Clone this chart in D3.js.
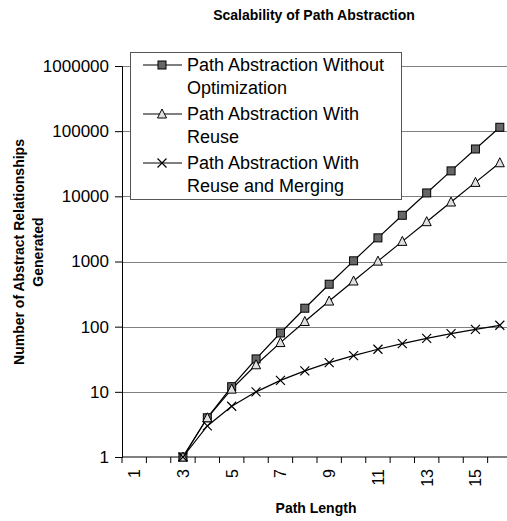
<!DOCTYPE html>
<html>
<head>
<meta charset="utf-8">
<script src="https://cdn.jsdelivr.net/npm/d3@7"></script>
<style>
  body { margin: 0; background: #fff; }
  text { font-family: Arial, "Liberation Sans", sans-serif; }
</style>
</head>
<body>
<script>
var width = 507,
    height = 521;

// path lengths 1..16, values start at 3
var pathLengths = d3.range(1, 17);
var tickLabels = [1, 3, 5, 7, 9, 11, 13, 15];
var yTicks = [1, 10, 100, 1000, 10000, 100000, 1000000];

var withoutOpt = [null, null, 1, 4, 12, 32, 80, 192, 448, 1024, 2304, 5120, 11264, 24576, 53248, 114688];
var withReuse = [null, null, 1, 4, 11, 26, 57, 120, 247, 502, 1013, 2036, 4083, 8178, 16369, 32752];
var withMerging = [null, null, 1, 3, 6, 10, 15, 21, 28, 36, 45, 55, 66, 78, 91, 105];

var seriesNames = [
  ["Path Abstraction Without", "Optimization"],
  ["Path Abstraction With", "Reuse"],
  ["Path Abstraction With", "Reuse and Merging"]
];

var plotLeft = 122, plotRight = 512, plotTop = 66, plotBottom = 457;

var svg = d3.select("body").append("svg")
    .attr("width", width)
    .attr("height", height);

var x = d3.scaleBand()
    .domain(pathLengths)
    .range([plotLeft, plotRight]);

var y = d3.scaleLog()
    .domain([1, 1000000])
    .range([plotBottom, plotTop]);

// gridlines
svg.append("g")
  .selectAll("line")
    .data(yTicks.slice(1))
  .enter().append("line")
    .attr("x1", plotLeft)
    .attr("x2", plotRight)
    .attr("y1", function(d) { return Math.round(y(d)) + 0.5; })
    .attr("y2", function(d) { return Math.round(y(d)) + 0.5; })
    .attr("stroke", "#808080")
    .attr("stroke-width", 1);

// y axis
var yAxis = svg.append("g")
    .attr("transform", "translate(" + plotLeft + ",0)")
    .call(d3.axisLeft(y).tickValues(yTicks).tickFormat(d3.format("d")).tickSize(7).tickPadding(6));
yAxis.select(".domain").attr("stroke", "#000");
yAxis.selectAll("text")
    .attr("font-size", "17px")
    .attr("fill", "#000")
    .attr("font-family", "Arial, 'Liberation Sans', sans-serif");

// x axis: ticks between categories
var xAxis = svg.append("g")
    .attr("transform", "translate(0," + plotBottom + ")");
xAxis.append("line")
    .attr("x1", plotLeft).attr("x2", plotRight)
    .attr("stroke", "#000");
xAxis.selectAll(".tk")
    .data(pathLengths)
  .enter().append("line")
    .attr("class", "tk")
    .attr("x1", function(d) { return x(d); })
    .attr("x2", function(d) { return x(d); })
    .attr("y1", 0).attr("y2", 6)
    .attr("stroke", "#000");
xAxis.selectAll("text")
    .data(tickLabels)
  .enter().append("text")
    .attr("transform", function(d) {
      return "translate(" + (x(d) + x.bandwidth() / 2 + 6) + ",12) rotate(-90)";
    })
    .attr("text-anchor", "end")
    .attr("font-size", "16px")
    .text(function(d) { return d; });

// lines
var line = d3.line()
    .defined(function(d) { return d[1] != null; })
    .x(function(d) { return x(d[0]) + x.bandwidth() / 2; })
    .y(function(d) { return y(d[1]); });

var allSeries = [withoutOpt, withReuse, withMerging];
allSeries.forEach(function(vals) {
  svg.append("path")
    .datum(pathLengths.map(function(p, i) { return [p, vals[i]]; }))
    .attr("fill", "none")
    .attr("stroke", "#000")
    .attr("stroke-width", 1.2)
    .attr("d", line);
});

function drawMarker(g, kind, cx, cy) {
  if (kind === 0) {
    g.append("rect")
      .attr("x", cx - 4).attr("y", cy - 4)
      .attr("width", 8).attr("height", 8)
      .attr("fill", "#666").attr("stroke", "#000").attr("stroke-width", 1);
  } else if (kind === 1) {
    g.append("path")
      .attr("d", "M" + cx + "," + (cy - 5) + "L" + (cx + 4.5) + "," + (cy + 4) + "L" + (cx - 4.5) + "," + (cy + 4) + "Z")
      .attr("fill", "#e0e0e0").attr("stroke", "#000").attr("stroke-width", 1);
  } else {
    g.append("path")
      .attr("d", "M" + (cx - 4.5) + "," + (cy - 4.5) + "L" + (cx + 4.5) + "," + (cy + 4.5) +
                 "M" + (cx + 4.5) + "," + (cy - 4.5) + "L" + (cx - 4.5) + "," + (cy + 4.5))
      .attr("stroke", "#000").attr("stroke-width", 1.2);
  }
}

var marks = svg.append("g");
allSeries.forEach(function(vals, k) {
  pathLengths.forEach(function(p, i) {
    if (vals[i] == null) return;
    drawMarker(marks, k, x(p) + x.bandwidth() / 2, y(vals[i]));
  });
});

// legend
var legend = svg.append("g");
legend.append("rect")
    .attr("x", 130.5).attr("y", 52.5)
    .attr("width", 271).attr("height", 147)
    .attr("fill", "#fff")
    .attr("stroke", "#555");
seriesNames.forEach(function(lines, k) {
  var cy = 65 + k * 49;
  legend.append("line")
    .attr("x1", 143).attr("x2", 182)
    .attr("y1", cy).attr("y2", cy)
    .attr("stroke", "#000").attr("stroke-width", 1.2);
  drawMarker(legend, k, 162, cy);
  lines.forEach(function(t, j) {
    legend.append("text")
      .attr("x", 187)
      .attr("y", cy + 6 + j * 23)
      .attr("font-size", "18px")
      .text(t);
  });
});

// titles
svg.append("text")
    .attr("x", 314).attr("y", 20)
    .attr("text-anchor", "middle")
    .attr("font-size", "14px")
    .attr("font-weight", "bold")
    .text("Scalability of Path Abstraction");

svg.append("text")
    .attr("x", 316).attr("y", 513)
    .attr("text-anchor", "middle")
    .attr("font-size", "14px")
    .attr("font-weight", "bold")
    .text("Path Length");

var yl = svg.append("text")
    .attr("transform", "translate(24,252) rotate(-90)")
    .attr("text-anchor", "middle")
    .attr("font-size", "14px")
    .attr("font-weight", "bold");
yl.append("tspan").attr("x", 0).attr("dy", 0).text("Number of Abstract Relationships");
yl.append("tspan").attr("x", 0).attr("dy", 19).text("Generated");
</script>
</body>
</html>
